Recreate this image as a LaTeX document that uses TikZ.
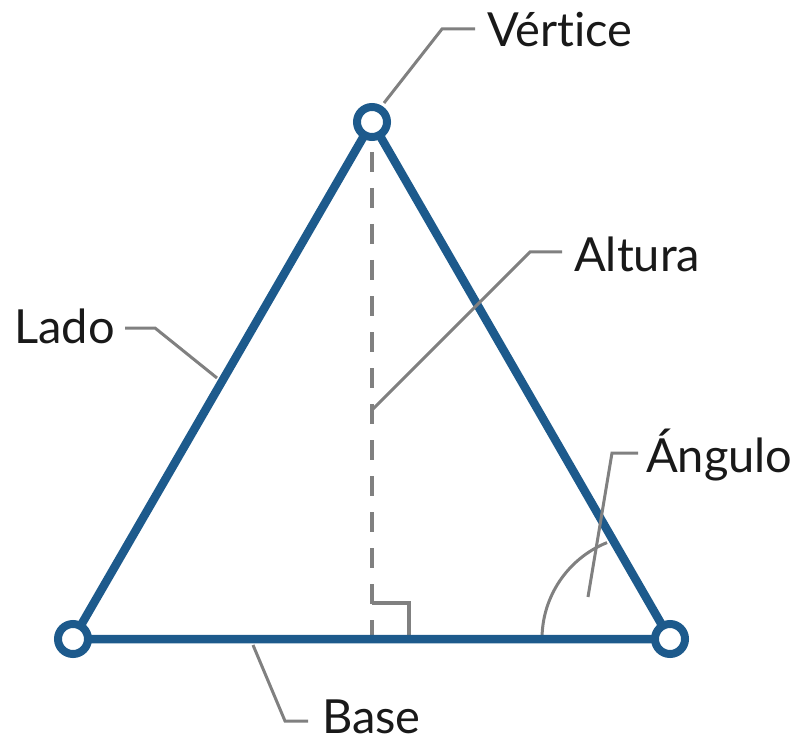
\documentclass[tikz,border=0pt]{standalone}
\usepackage{fontspec}
\setmainfont[Ligatures=NoCommon]{Lato}
\definecolor{triblue}{RGB}{29,90,140}
\definecolor{leadgray}{RGB}{128,128,128}
\definecolor{txt}{RGB}{25,25,25}
\begin{document}
\begin{tikzpicture}[x=1pt,y=-1pt,
  side/.style={draw=triblue,line width=8.5pt,line join=miter},
  vert/.style={circle,draw=triblue,line width=8pt,fill=white,minimum size=30pt,inner sep=0pt},
  leader/.style={draw=leadgray,line width=3pt},
  altline/.style={draw=leadgray,line width=4pt,dash pattern=on 20pt off 16pt,dash phase=6pt},
  rmark/.style={draw=leadgray,line width=4pt},
  lbl/.style={anchor=base west,inner sep=0pt,font=\fontsize{47}{47}\selectfont,text=txt}]
\useasboundingbox (0,0) rectangle (800,743);
% vertices
\coordinate (a) at (372,122);
\coordinate (b) at (73,639);
\coordinate (c) at (670,639);
\coordinate (foot) at (372,639);
% altitude
\draw[altline] (a) -- (foot);
% right angle mark
\coordinate (r1) at (372,603);
\coordinate (r2) at (409,603);
\coordinate (r3) at (409,639);
\draw[rmark] (r1) -- (r2) -- (r3);
% angle arc
\coordinate (arcstart) at (542,639);
\draw[leader] (arcstart) arc[start angle=180,end angle=248,radius=104];
% triangle
\draw[side] (a) -- (b) -- (c) -- cycle;
\node[vert] (A) at (a) {};
\node[vert] (B) at (b) {};
\node[vert] (C) at (c) {};
% labels
\node[lbl] (lv) at (487,47) {Vértice};
\node[lbl] (lal) at (574,272) {Altura};
\node[lbl] (lla) at (14,343) {Lado};
\node[lbl] (lan) at (646,472) {Ángulo};
\node[lbl] (lba) at (322,733) {\raisebox{0pt}[\height][0pt]{Base}};
% leaders
\coordinate (v0) at (384,103); \coordinate (v1) at (442,29); \coordinate (v2) at (475,29);
\draw[leader] (v0) -- (v1) -- (v2);
\coordinate (h0) at (372,410); \coordinate (h1) at (530,252); \coordinate (h2) at (562,252);
\draw[leader] (h0) -- (h1) -- (h2);
\coordinate (s0) at (125,328); \coordinate (s1) at (155,328); \coordinate (s2) at (217,378);
\draw[leader] (s0) -- (s1) -- (s2);
\coordinate (g0) at (588,597); \coordinate (g1) at (612,453); \coordinate (g2) at (638,453);
\draw[leader] (g0) -- (g1) -- (g2);
\coordinate (e0) at (253,645); \coordinate (e1) at (285,721); \coordinate (e2) at (308,721);
\draw[leader] (e0) -- (e1) -- (e2);
\end{tikzpicture}
\end{document}
